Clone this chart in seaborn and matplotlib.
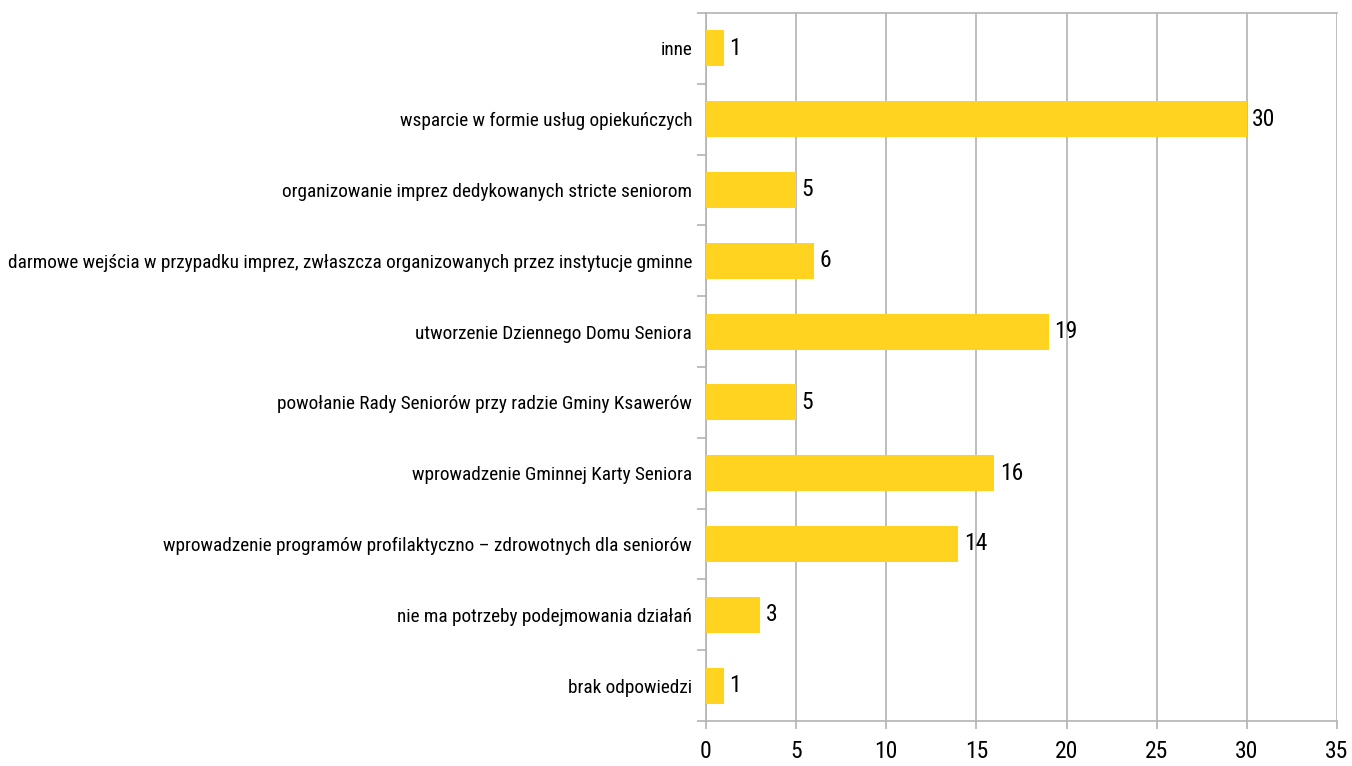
import matplotlib
matplotlib.use("Agg")
import matplotlib.pyplot as plt
import seaborn as sns
import pandas as pd
import numpy as np

categories = [
    "inne",
    "wsparcie w formie usług opiekuńczych",
    "organizowanie imprez dedykowanych stricte seniorom",
    "darmowe wejścia w przypadku imprez, zwłaszcza organizowanych przez instytucje gminne",
    "utworzenie Dziennego Domu Seniora",
    "powołanie Rady Seniorów przy radzie Gminy Ksawerów",
    "wprowadzenie Gminnej Karty Seniora",
    "wprowadzenie programów profilaktyczno – zdrowotnych dla seniorów",
    "nie ma potrzeby podejmowania działań",
    "brak odpowiedzi",
]
values = [1, 30, 5, 6, 19, 5, 16, 14, 3, 1]
x_ticks = [0, 5, 10, 15, 20, 25, 30, 35]

sns.set_theme(style="white")
plt.rcParams["font.family"] = ["Roboto Condensed", "Liberation Sans", "DejaVu Sans"]

df = pd.DataFrame({"cat": categories, "val": values})

fig = plt.figure(figsize=(13.52, 7.66), dpi=100)
ax = fig.add_axes([706/1352, 1 - 721/766, (1337-706)/1352, (721-13)/766])

sns.barplot(data=df, x="val", y="cat", orient="h", color="#FFD320",
            saturation=1, width=0.51, linewidth=0, ax=ax, zorder=3)

ax.set_xlim(0, 35)
ax.set_ylim(len(categories) - 0.5, -0.5)
ax.set_xticks(x_ticks)
ax.set_xticklabels([str(t) for t in x_ticks], fontsize=17)
ax.set_xlabel("")
ax.set_ylabel("")

grid_c = "#b3b3b3"
ax.xaxis.grid(True, color=grid_c, linewidth=1.2, zorder=0)
ax.set_axisbelow(True)
for s in ["left", "bottom", "top"]:
    ax.spines[s].set_visible(True)
    ax.spines[s].set_color(grid_c)
    ax.spines[s].set_linewidth(1.2)
ax.spines["right"].set_visible(False)

ax.tick_params(axis="x", which="major", length=6, width=1.2, color=grid_c,
               pad=8, bottom=True, labelcolor="black")
ax.tick_params(axis="y", which="major", length=0, pad=10, labelsize=13.9,
               labelcolor="black")
ax.set_yticks(np.arange(-0.5, len(categories) + 0.5, 1), minor=True)
ax.tick_params(axis="y", which="minor", length=6.5, width=1.2, color=grid_c, left=True)

for i, v in enumerate(values):
    ax.text(v + 0.3, i, str(v), va="center", ha="left", fontsize=17, color="black")

fig.savefig("out.png", dpi=100)
